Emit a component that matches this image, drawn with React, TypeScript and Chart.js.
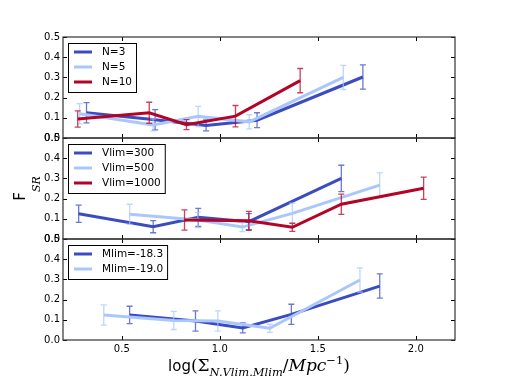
import React, { useEffect, useRef } from "react";
import { Chart, registerables } from "chart.js";

Chart.register(...registerables);

// ---------- data ----------
const xTickValues = [0.5, 1.0, 1.5, 2.0];
const yTickValues = [0, 0.1, 0.2, 0.3, 0.4, 0.5];

// Panel 1: N
const n3X = [0.32, 0.67, 0.93, 1.19, 1.73];
const n3Y = [0.125, 0.09, 0.062, 0.088, 0.302];
const n3Err = [0.05, 0.05, 0.027, 0.037, 0.06];

const n5X = [0.285, 0.66, 0.89, 1.15, 1.63];
const n5Y = [0.12, 0.065, 0.107, 0.08, 0.3];
const n5Err = [0.05, 0.03, 0.05, 0.035, 0.06];

const n10X = [0.275, 0.64, 0.83, 1.08, 1.41];
const n10Y = [0.094, 0.125, 0.066, 0.108, 0.284];
const n10Err = [0.04, 0.052, 0.025, 0.053, 0.06];

// Panel 2: Vlim
const v300X = [0.28, 0.66, 0.89, 1.148, 1.62];
const v300Y = [0.125, 0.061, 0.107, 0.086, 0.3];
const v300Err = [0.043, 0.03, 0.045, 0.04, 0.065];

const v500X = [0.54, 0.888, 1.115, 1.37, 1.816];
const v500Y = [0.122, 0.094, 0.059, 0.127, 0.267];
const v500Err = [0.05, 0.038, 0.022, 0.05, 0.06];

const v1000X = [0.82, 1.148, 1.37, 1.62, 2.04];
const v1000Y = [0.094, 0.09, 0.058, 0.172, 0.251];
const v1000Err = [0.05, 0.047, 0.02, 0.05, 0.055];

// Panel 3: Mlim
const m183X = [0.54, 0.876, 1.117, 1.365, 1.816];
const m183Y = [0.124, 0.094, 0.06, 0.127, 0.267];
const m183Err = [0.043, 0.05, 0.025, 0.05, 0.06];

const m190X = [0.408, 0.765, 0.99, 1.255, 1.715];
const m190Y = [0.124, 0.097, 0.094, 0.058, 0.297];
const m190Err = [0.05, 0.045, 0.05, 0.02, 0.06];

const DARK = "#3b4cc0";
const LIGHT = "#aac7fd";
const RED = "#b40426";

type Series = {
  label: string;
  xs: number[];
  ys: number[];
  errs: number[];
  color: string;
  panel: number;
};

const seriesList: Series[] = [
  { label: "N=3", xs: n3X, ys: n3Y, errs: n3Err, color: DARK, panel: 0 },
  { label: "N=5", xs: n5X, ys: n5Y, errs: n5Err, color: LIGHT, panel: 0 },
  { label: "N=10", xs: n10X, ys: n10Y, errs: n10Err, color: RED, panel: 0 },
  { label: "Vlim=300", xs: v300X, ys: v300Y, errs: v300Err, color: DARK, panel: 1 },
  { label: "Vlim=500", xs: v500X, ys: v500Y, errs: v500Err, color: LIGHT, panel: 1 },
  { label: "Vlim=1000", xs: v1000X, ys: v1000Y, errs: v1000Err, color: RED, panel: 1 },
  { label: "Mlim=-18.3", xs: m183X, ys: m183Y, errs: m183Err, color: DARK, panel: 2 },
  { label: "Mlim=-19.0", xs: m190X, ys: m190Y, errs: m190Err, color: LIGHT, panel: 2 },
];

const panelAxes = ["y1", "y2", "y3"];

function hexA(hex: string, a: number) {
  const r = parseInt(hex.slice(1, 3), 16);
  const g = parseInt(hex.slice(3, 5), 16);
  const b = parseInt(hex.slice(5, 7), 16);
  return `rgba(${r},${g},${b},${a})`;
}

type Part = { t: string; font: string; dy: number };

function drawParts(ctx: CanvasRenderingContext2D, parts: Part[], cx: number, baseline: number) {
  let total = 0;
  const widths = parts.map((p) => {
    ctx.font = p.font;
    const w = ctx.measureText(p.t).width;
    total += w;
    return w;
  });
  let x = cx - total / 2;
  ctx.textAlign = "left";
  ctx.textBaseline = "alphabetic";
  parts.forEach((p, i) => {
    ctx.font = p.font;
    ctx.fillText(p.t, x, baseline + p.dy);
    x += widths[i];
  });
}

const panelPlugin = {
  id: "panelPlugin",
  afterDatasetDraw(chart: any, args: any) {
    const ctx: CanvasRenderingContext2D = chart.ctx;
    const ds = chart.data.datasets[args.index];
    const meta = args.meta;
    const yScale = chart.scales[ds.yAxisID];
    const errs: number[] = ds.errs;
    ctx.save();
    ctx.strokeStyle = hexA(ds.borderColor, 0.75);
    ctx.lineWidth = 1.3;
    meta.data.forEach((pt: any, i: number) => {
      const v = ds.data[i].y;
      const yTop = yScale.getPixelForValue(v + errs[i]);
      const yBot = yScale.getPixelForValue(v - errs[i]);
      const x = pt.x;
      ctx.beginPath();
      ctx.moveTo(x, yTop);
      ctx.lineTo(x, yBot);
      ctx.moveTo(x - 3, yTop);
      ctx.lineTo(x + 3, yTop);
      ctx.moveTo(x - 3, yBot);
      ctx.lineTo(x + 3, yBot);
      ctx.stroke();
    });
    ctx.restore();
  },
  afterDatasetsDraw(chart: any) {
    const ctx: CanvasRenderingContext2D = chart.ctx;
    const area = chart.chartArea;
    const xScale = chart.scales.x;
    ctx.save();
    // frames and ticks
    panelAxes.forEach((id) => {
      const s = chart.scales[id];
      ctx.strokeStyle = "#000";
      ctx.lineWidth = 1;
      ctx.beginPath();
      yTickValues.forEach((v) => {
        const py = Math.round(s.getPixelForValue(v)) + 0.5;
        ctx.moveTo(area.left, py);
        ctx.lineTo(area.left + 4, py);
        ctx.moveTo(area.right, py);
        ctx.lineTo(area.right - 4, py);
      });
      xTickValues.forEach((v) => {
        const px = Math.round(xScale.getPixelForValue(v)) + 0.5;
        ctx.moveTo(px, s.top);
        ctx.lineTo(px, s.top + 4);
        ctx.moveTo(px, s.bottom);
        ctx.lineTo(px, s.bottom - 4);
      });
      ctx.stroke();
      ctx.strokeStyle = "#333";
      ctx.lineWidth = 1.2;
      ctx.strokeRect(area.left, s.top, area.right - area.left, s.bottom - s.top);
    });

    // legends
    panelAxes.forEach((id, p) => {
      const s = chart.scales[id];
      const entries = seriesList.filter((e) => e.panel === p);
      ctx.font = '10.5px "DejaVu Sans"';
      let maxW = 0;
      entries.forEach((e) => {
        maxW = Math.max(maxW, ctx.measureText(e.label).width);
      });
      const bx = area.left + 5;
      const by = s.top + 6;
      const rowH = 15;
      const bw = 34 + maxW + 4;
      const bh = 9 + rowH * (entries.length - 1) + 10;
      ctx.fillStyle = "#fff";
      ctx.fillRect(bx, by, bw, bh);
      ctx.strokeStyle = "#000";
      ctx.lineWidth = 1;
      ctx.strokeRect(Math.round(bx) + 0.5, Math.round(by) + 0.5, bw, bh);
      entries.forEach((e, i) => {
        const cy = by + 9 + i * rowH;
        ctx.strokeStyle = e.color;
        ctx.lineWidth = 3;
        ctx.beginPath();
        ctx.moveTo(bx + 6, cy);
        ctx.lineTo(bx + 24, cy);
        ctx.stroke();
        ctx.fillStyle = "#000";
        ctx.textAlign = "left";
        ctx.textBaseline = "middle";
        ctx.fillText(e.label, bx + 34, cy + 0.5);
      });
    });

    // x title
    ctx.fillStyle = "#000";
    const cx = (area.left + area.right) / 2;
    drawParts(
      ctx,
      [
        { t: "log", font: '15px "DejaVu Sans"', dy: 0 },
        { t: "(", font: '17px "DejaVu Serif"', dy: 0 },
        { t: "Σ", font: '17px "DejaVu Serif"', dy: 0 },
        { t: "N.Vlim.Mlim", font: 'italic 11.5px "DejaVu Serif"', dy: 5 },
        { t: "/", font: '17px "DejaVu Serif"', dy: 0 },
        { t: "Mpc", font: 'italic 17px "DejaVu Serif"', dy: 0 },
        { t: "−1", font: '11.5px "DejaVu Serif"', dy: -7 },
        { t: ")", font: '17px "DejaVu Serif"', dy: 0 },
      ],
      cx,
      371
    );

    // y title
    const mid = chart.scales.y2;
    ctx.save();
    ctx.translate(25, (mid.top + mid.bottom) / 2);
    ctx.rotate(-Math.PI / 2);
    drawParts(
      ctx,
      [
        { t: "F", font: '15px "DejaVu Sans"', dy: 0 },
        { t: "SR", font: 'italic 11px "DejaVu Serif"', dy: 15 },
      ],
      0,
      0
    );
    ctx.restore();
    ctx.restore();
  },
};

function yScaleConfig() {
  return {
    type: "linear",
    position: "left",
    stack: "panels",
    stackWeight: 1,
    min: 0,
    max: 0.5,
    afterBuildTicks: (s: any) => {
      s.ticks = yTickValues.map((v) => ({ value: v }));
    },
    afterFit: (s: any) => {
      s.width = 63;
    },
    grid: { display: false, drawTicks: false },
    border: { display: false },
    ticks: {
      autoSkip: false,
      padding: 3,
      color: "#000",
      font: { family: "DejaVu Sans", size: 10 },
      callback: (v: any) => Number(v).toFixed(1),
    },
  };
}

export default function App() {
  const ref = useRef<HTMLCanvasElement | null>(null);

  useEffect(() => {
    if (!ref.current) return;
    const n = seriesList.length;
    const chart = new Chart(ref.current, {
      type: "line",
      data: {
        datasets: seriesList.map((s, i) => ({
          label: s.label,
          data: s.xs.map((x, j) => ({ x, y: s.ys[j] })),
          errs: s.errs,
          yAxisID: panelAxes[s.panel],
          xAxisID: "x",
          borderColor: s.color,
          backgroundColor: s.color,
          borderWidth: 3,
          pointRadius: 0,
          tension: 0,
          fill: false,
          order: n - i,
        })) as any,
      },
      options: {
        animation: false,
        responsive: false,
        layout: { padding: { left: 0, right: 51, top: 37, bottom: 0 } },
        plugins: {
          legend: { display: false },
          tooltip: { enabled: false },
        },
        scales: {
          x: {
            type: "linear",
            position: "bottom",
            min: 0.2,
            max: 2.2,
            afterBuildTicks: (s: any) => {
              s.ticks = xTickValues.map((v) => ({ value: v }));
            },
            afterFit: (s: any) => {
              s.height = 39;
            },
            grid: { display: false, drawTicks: false },
            border: { display: false },
            ticks: {
              autoSkip: false,
              maxRotation: 0,
              padding: 3,
              color: "#000",
              font: { family: "DejaVu Sans", size: 10 },
              callback: (v: any) => Number(v).toFixed(1),
            },
          },
          // left-stacked scales are laid out last-defined on top
          y3: yScaleConfig(),
          y2: yScaleConfig(),
          y1: yScaleConfig(),
        } as any,
      },
      plugins: [panelPlugin],
    });
    return () => chart.destroy();
  }, []);

  return (
    <div style={{ position: "absolute", left: 0, top: 0, width: 506, height: 379, background: "#fff" }}>
      <canvas ref={ref} width={506} height={379} style={{ display: "block" }} />
    </div>
  );
}
